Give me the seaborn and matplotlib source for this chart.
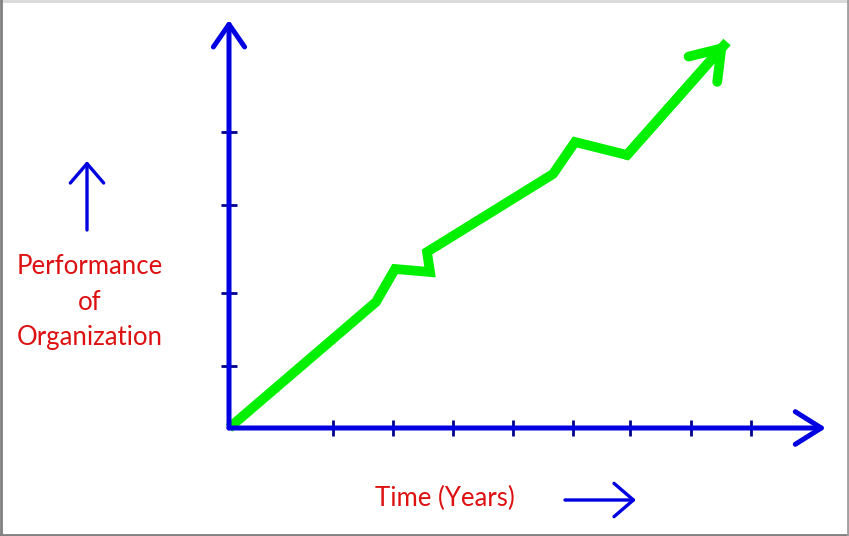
import matplotlib
matplotlib.use("Agg")
import matplotlib.pyplot as plt
import seaborn as sns
import pandas as pd

sns.set_style("white")
plt.rcParams['font.family'] = ['Lato', 'DejaVu Sans']

# Performance curve (x: time, y: performance)
time_vals = [0, 147, 166, 201, 198, 324, 346, 398, 498]
perf_vals = [0, 126, 159, 156, 176, 254, 286, 273, 386]
# Axis tick positions
x_ticks = [104, 164, 224, 284, 344, 401, 462, 522]
y_ticks = [62, 135, 223, 296]
x_axis_end = 597
y_axis_end = 408
y_label = "Performance\nof\nOrganization"
x_label = "Time (Years)"

BLUE = '#0000e0'
GREEN = '#00f000'
RED = '#dd1111'

fig = plt.figure(figsize=(8.49, 5.36), dpi=100)
ax = fig.add_axes([0, 0, 1, 1])
ax.set_xlim(-229, 620)
ax.set_ylim(-108, 428)

df = pd.DataFrame({'time': time_vals, 'perf': perf_vals})
sns.lineplot(data=df, x='time', y='perf', sort=False, estimator=None,
             color=GREEN, lw=7, ax=ax, solid_joinstyle='miter',
             solid_capstyle='butt')
# green arrowhead
ax.annotate('', xy=(time_vals[-1], perf_vals[-1]),
            xytext=(time_vals[-2], perf_vals[-2]),
            arrowprops=dict(arrowstyle='->,head_length=0.8,head_width=0.55',
                            color=GREEN, lw=7, mutation_scale=25,
                            shrinkA=0, shrinkB=0, joinstyle='miter'))

# axes lines with arrowheads
for spine in ax.spines.values():
    spine.set_visible(False)
ax.spines['left'].set_position(('data', 0))
ax.spines['bottom'].set_position(('data', 0))
ax.annotate('', xy=(0, y_axis_end), xytext=(0, 0),
            arrowprops=dict(arrowstyle='->,head_length=0.65,head_width=0.45',
                            color=BLUE, lw=3.6, mutation_scale=25,
                            shrinkA=0, shrinkB=0))
ax.annotate('', xy=(x_axis_end, 0), xytext=(0, 0),
            arrowprops=dict(arrowstyle='->,head_length=0.75,head_width=0.47',
                            color=BLUE, lw=3.6, mutation_scale=25,
                            shrinkA=0, shrinkB=0))
ax.set_xticks(x_ticks)
ax.set_yticks(y_ticks)
ax.tick_params(axis='both', direction='inout', length=12, width=2,
               color='#00008a', labelleft=False, labelbottom=False,
               left=True, bottom=True)

# label arrows
ax.annotate('', xy=(-142, 267), xytext=(-142, 198),
            arrowprops=dict(arrowstyle='->,head_length=0.7,head_width=0.6',
                            color=BLUE, lw=2.4, mutation_scale=20,
                            shrinkA=0, shrinkB=0))
ax.annotate('', xy=(407, -72), xytext=(336, -72),
            arrowprops=dict(arrowstyle='->,head_length=0.7,head_width=0.6',
                            color=BLUE, lw=2.4, mutation_scale=20,
                            shrinkA=0, shrinkB=0))

ax.text(-139, 126, y_label, ha='center', va='center', fontsize=18.5,
        color=RED, linespacing=1.5)
ax.text(216, -70, x_label, ha='center', va='center', fontsize=18.5,
        color=RED)

ax.set_xlabel('')
ax.set_ylabel('')

# image frame
fig.add_artist(plt.Line2D([0, 1], [0.998, 0.998], transform=fig.transFigure,
                          color='#d8d8d8', lw=2))
fig.add_artist(plt.Line2D([0.001, 0.001], [0, 1], transform=fig.transFigure,
                          color='#808080', lw=2))
fig.add_artist(plt.Line2D([0, 1], [0.002, 0.002], transform=fig.transFigure,
                          color='#808080', lw=2))
fig.add_artist(plt.Line2D([0.999, 0.999], [0, 1], transform=fig.transFigure,
                          color='#a0a0a0', lw=2))

fig.savefig('out.png', dpi=100)
